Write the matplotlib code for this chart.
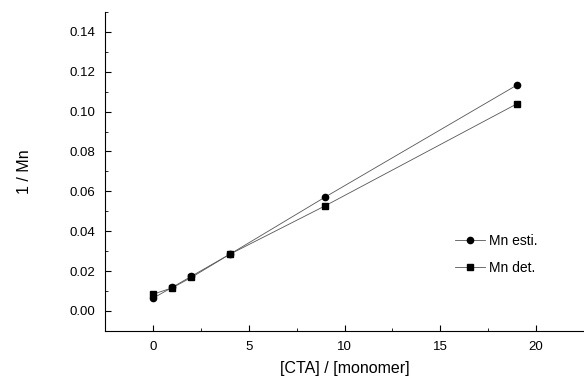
import matplotlib.pyplot as plt
from matplotlib.ticker import MultipleLocator

plt.rcParams['font.family'] = ['Liberation Sans', 'DejaVu Sans']

cta = [0, 1, 2, 4, 9, 19]
mn_esti = [0.0064, 0.0118, 0.0174, 0.0284, 0.0572, 0.1133]
mn_det = [0.0084, 0.0116, 0.0168, 0.0284, 0.0528, 0.1039]

fig = plt.figure(figsize=(5.84, 3.83), dpi=100)
ax = fig.add_axes([0.18, 0.136, 0.82, 0.833])

ax.plot(cta, mn_esti, color='#555555', lw=0.6, marker='o', ms=4.5,
        mfc='black', mec='black', label='Mn esti.')
ax.plot(cta, mn_det, color='#555555', lw=0.6, marker='s', ms=4,
        mfc='black', mec='black', label='Mn det.')

ax.set_xlim(-2.5, 22.5)
ax.set_ylim(-0.01, 0.15)
ax.xaxis.set_minor_locator(MultipleLocator(2.5))
ax.yaxis.set_minor_locator(MultipleLocator(0.01))
ax.set_yticks([0, 0.02, 0.04, 0.06, 0.08, 0.10, 0.12, 0.14])
ax.set_yticklabels(['0.00', '0.02', '0.04', '0.06', '0.08', '0.10', '0.12', '0.14'])
ax.set_xticks([0, 5, 10, 15, 20])
ax.tick_params(which='both', direction='in', labelsize=9.5)
ax.tick_params(which='major', length=4, pad=7)
ax.tick_params(which='minor', length=2)
ax.spines['top'].set_visible(False)
ax.spines['right'].set_visible(False)

ax.set_xlabel('[CTA] / [monomer]', fontsize=11.5, labelpad=6)
ax.set_ylabel('1 / Mn', fontsize=11.5, labelpad=27)

ax.legend(loc='center right', bbox_to_anchor=(0.93, 0.24), frameon=False,
          fontsize=10, handlelength=2.2, handletextpad=0.3, labelspacing=0.9)

fig.savefig('out.png', dpi=100)
